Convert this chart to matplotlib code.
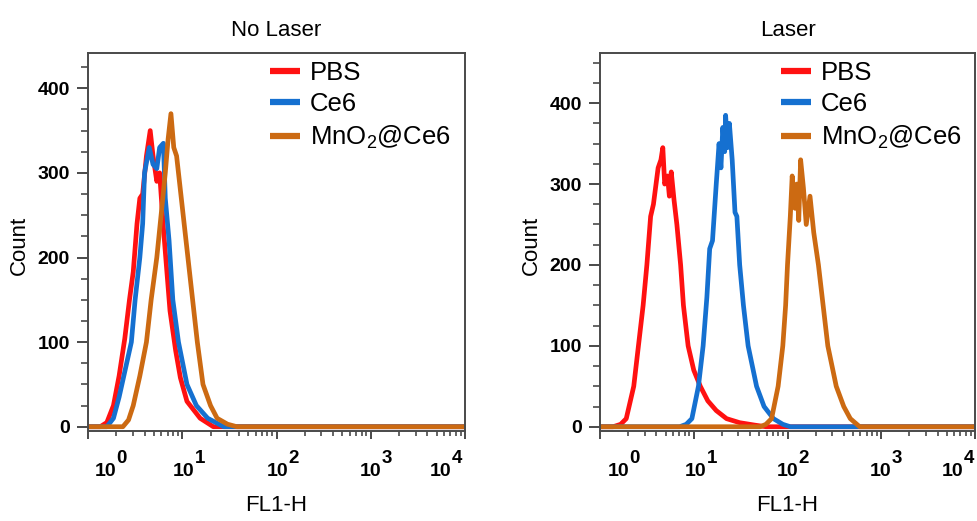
import matplotlib
matplotlib.use("Agg")
import numpy as np
from matplotlib import pyplot as plt
from matplotlib.ticker import FixedLocator, LogLocator, MultipleLocator, NullFormatter
from matplotlib.transforms import blended_transform_factory

plt.rcParams['font.family'] = ['Liberation Sans', 'DejaVu Sans']
plt.rcParams['mathtext.fontset'] = 'custom'
plt.rcParams['mathtext.rm'] = 'Liberation Sans'
plt.rcParams['mathtext.bf'] = 'Liberation Sans:bold'

# histogram outlines, x as log10(FL1-H), y as event count
# --- No Laser ---
nl_pbs_x = [0, 0.13, 0.2, 0.27, 0.33, 0.39, 0.44, 0.48, 0.52, 0.55, 0.58, 0.62, 0.66, 0.69,
            0.73, 0.76, 0.8, 0.87, 0.93, 0.98, 1.05, 1.19, 1.33, 4]
nl_pbs_y = [0, 0, 5, 25, 60, 104, 150, 183, 240, 270, 275, 320, 350, 320,
            290, 300, 235, 137, 90, 58, 30, 10, 0, 0]
nl_ce6_x = [0, 0.2, 0.27, 0.33, 0.4, 0.46, 0.5, 0.55, 0.58, 0.6, 0.65, 0.69, 0.73, 0.76,
            0.8, 0.82, 0.86, 0.9, 0.96, 1.05, 1.15, 1.27, 1.44, 4]
nl_ce6_y = [0, 0, 10, 35, 70, 100, 150, 200, 240, 300, 330, 310, 305, 330,
            335, 270, 220, 150, 100, 50, 25, 10, 0, 0]
nl_mno_x = [0, 0.37, 0.43, 0.48, 0.55, 0.62, 0.67, 0.73, 0.78, 0.82, 0.85, 0.88, 0.91, 0.94,
            0.97, 1.01, 1.06, 1.11, 1.16, 1.22, 1.3, 1.37, 1.48, 1.58, 4]
nl_mno_y = [0, 0, 8, 25, 60, 100, 150, 200, 255, 300, 340, 370, 330, 320,
            290, 250, 200, 150, 100, 50, 25, 10, 3, 0, 0]

# --- Laser ---
l_pbs_x = [0, 0.14, 0.22, 0.28, 0.36, 0.41, 0.46, 0.5, 0.54, 0.57, 0.62, 0.65, 0.67, 0.69,
           0.72, 0.74, 0.76, 0.79, 0.82, 0.86, 0.89, 0.94, 1.0, 1.07, 1.15, 1.24, 1.35,
           1.49, 1.65, 1.77, 4]
l_pbs_y = [0, 0, 3, 10, 50, 100, 150, 200, 260, 275, 320, 330, 345, 300,
           310, 285, 315, 280, 250, 200, 150, 100, 70, 50, 32, 20, 10,
           5, 2, 0, 0]
l_ce6_x = [0, 0.85, 0.92, 0.98, 1.05, 1.1, 1.14, 1.17, 1.2, 1.24, 1.27, 1.29, 1.31, 1.33,
           1.34, 1.36, 1.38, 1.41, 1.44, 1.46, 1.49, 1.53, 1.58, 1.67, 1.75, 1.85, 1.95,
           2.03, 4]
l_ce6_y = [0, 0, 3, 10, 50, 100, 160, 220, 230, 300, 350, 320, 370, 340,
           385, 345, 375, 330, 265, 260, 200, 150, 100, 50, 25, 10, 3,
           0, 0]
l_mno_x = [0, 1.71, 1.77, 1.83, 1.9, 1.95, 1.98, 2.0, 2.03, 2.05, 2.08, 2.1, 2.12, 2.14,
           2.17, 2.2, 2.24, 2.28, 2.33, 2.38, 2.43, 2.52, 2.6, 2.67, 2.77, 4]
l_mno_y = [0, 0, 3, 10, 50, 100, 150, 200, 260, 310, 270, 300, 255, 330,
           295, 250, 285, 240, 200, 150, 100, 50, 25, 10, 0, 0]

labels = ['PBS', 'Ce6', 'MnO$_2$@Ce6']
colors = ['#ff1111', '#1570d0', '#cc6a12']
titles = ['No Laser', 'Laser']
decades = [0, 1, 2, 3, 4]

panels = [
    [(nl_pbs_x, nl_pbs_y), (nl_ce6_x, nl_ce6_y), (nl_mno_x, nl_mno_y)],
    [(l_pbs_x, l_pbs_y), (l_ce6_x, l_ce6_y), (l_mno_x, l_mno_y)],
]

W, H = 977, 521
fig = plt.figure(figsize=(W / 100, H / 100), dpi=100)

# axes boxes in pixels: left, right, top, bottom
boxes = [(88, 465, 53, 430.7), (600, 975, 53, 430.7)]
ylims = [(-4.7, 441.7), (-4.9, 462)]
# left edge of each "10" decade label, in log10 units
label_pos = [[0.074, 0.902, 1.90, 2.885, 3.63], [0.085, 0.907, 1.89, 2.88, 3.65]]
frame_col = '#4a4a4a'

for i, ax_box in enumerate(boxes):
    l, r, t, b = ax_box
    ax = fig.add_axes([l / W, 1 - b / H, (r - l) / W, (b - t) / H])
    for (xs, ys), c, lab in zip(panels[i], colors, labels):
        ax.plot(10 ** np.array(xs), ys, color=c, lw=3.4, label=lab,
                solid_joinstyle='round', solid_capstyle='round')
    ax.set_xscale('log')
    ax.set_xlim(1, 1e4)
    ax.set_ylim(*ylims[i])

    ax.xaxis.set_major_locator(FixedLocator([10.0 ** d for d in decades]))
    ax.xaxis.set_minor_locator(LogLocator(base=10, subs=np.arange(2, 10), numticks=20))
    ax.xaxis.set_major_formatter(NullFormatter())
    ax.xaxis.set_minor_formatter(NullFormatter())
    ax.yaxis.set_major_locator(MultipleLocator(100))
    ax.yaxis.set_minor_locator(MultipleLocator(25))

    ax.tick_params(axis='both', which='major', direction='out', color=frame_col, width=1.4)
    ax.tick_params(axis='x', which='major', length=6)
    ax.tick_params(axis='x', which='minor', length=3.8, width=1.2, color=frame_col)
    ax.tick_params(axis='y', which='major', length=8, pad=5, labelsize=14)
    ax.tick_params(axis='y', which='minor', length=5, width=1.2, color=frame_col)
    ax.tick_params(top=False, right=False, which='both')
    for lbl in ax.get_yticklabels():
        lbl.set_fontweight('bold')
    for sp in ax.spines.values():
        sp.set_color(frame_col)
        sp.set_linewidth(1.4)

    # decade labels: "10" with a full-size raised exponent
    tr = blended_transform_factory(ax.transData, ax.transAxes)
    for d, p in zip(decades, label_pos[i]):
        ax.text(10 ** p, -0.109, '10', transform=tr, ha='left', va='center',
                fontsize=14, fontweight='bold')
        ax.annotate(str(d), xy=(10 ** p, -0.109), xycoords=tr,
                    xytext=(21.5, 13.5), textcoords='offset pixels',
                    ha='left', va='center', fontsize=13.5, fontweight='bold')

    ax.set_title(titles[i], fontsize=16, pad=12)
    ax.text(-0.182, 0.49, 'Count', transform=ax.transAxes, rotation=90,
            ha='center', va='center', fontsize=16)
    ax.text(0.5, -0.197, 'FL1-H', transform=ax.transAxes,
            ha='center', va='center', fontsize=16)

    leg = ax.legend(loc='upper left', bbox_to_anchor=(0.483, 0.98), frameon=False,
                    fontsize=18.5, handlelength=1.15, handletextpad=0.4,
                    labelspacing=0.3, borderpad=0, borderaxespad=0)
    for h in leg.get_lines():
        h.set_linewidth(4.5)
        h.set_solid_capstyle('butt')

fig.savefig('out.png', dpi=100)
